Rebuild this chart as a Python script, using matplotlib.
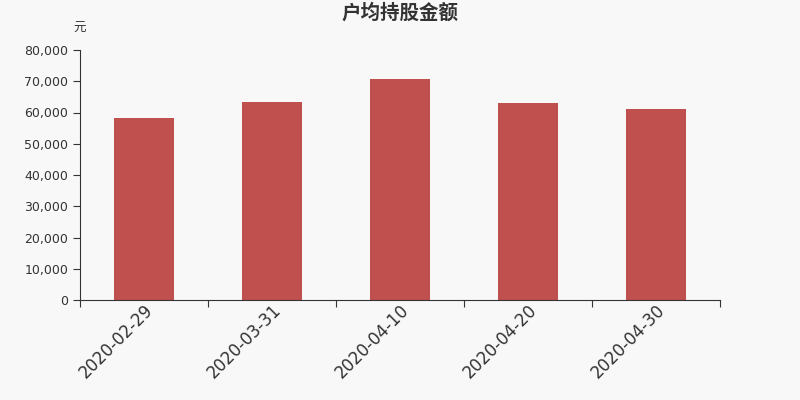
import matplotlib.pyplot as plt
import numpy as np
from matplotlib.ticker import FuncFormatter

plt.rcParams['font.family'] = ['DejaVu Sans', 'Noto Sans CJK SC']

dates = ["2020-02-29", "2020-03-31", "2020-04-10", "2020-04-20", "2020-04-30"]
amounts = [58200, 63350, 70600, 63050, 61100]

fig = plt.figure(figsize=(8, 4), dpi=100, facecolor="#f8f8f8")
ax = fig.add_axes([0.1, 0.25, 0.8, 0.625])
ax.set_facecolor("#f8f8f8")

x = np.arange(len(dates))
ax.bar(x, amounts, width=0.47, color="#c0504d", zorder=2)

ax.set_xlim(-0.5, len(dates) - 0.5)
ax.set_ylim(0, 80000)
ax.set_yticks(np.arange(0, 80001, 10000))
ax.yaxis.set_major_formatter(FuncFormatter(lambda v, p: f"{int(v):,}"))

# x ticks sit at category boundaries, labels at centres
ax.set_xticks(np.arange(-0.5, len(dates), 1.0))
ax.set_xticklabels([])
ax.set_xticks(x, minor=True)
ax.set_xticklabels(dates, minor=True, rotation=45, ha="right", rotation_mode="anchor",
                   fontsize=12, color="#333333")
ax.tick_params(axis="x", which="minor", length=0, pad=1)
ax.tick_params(axis="x", which="major", length=5, color="#333333")
ax.tick_params(axis="y", length=5, labelsize=9, colors="#333333")

for s in ["top", "right"]:
    ax.spines[s].set_visible(False)
for s in ["left", "bottom"]:
    ax.spines[s].set_color("#333333")

fig.text(0.5, 0.968, "户均持股金额", ha="center", va="center", fontsize=14,
         fontweight="bold", color="#333333", family=["Noto Sans CJK SC"])
fig.text(0.107, 0.928, "元", ha="right", va="center", fontsize=9, color="#333333",
         family=["Noto Sans CJK SC"])

fig.savefig("out.png", dpi=100, facecolor=fig.get_facecolor())
